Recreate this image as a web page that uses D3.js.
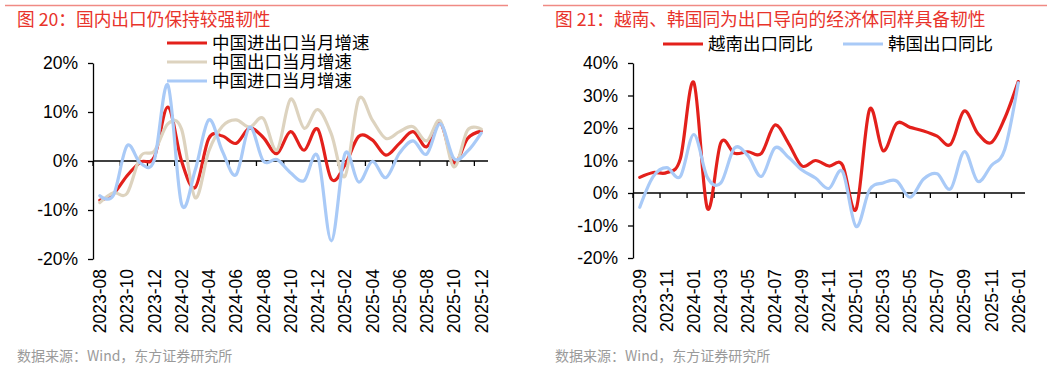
<!DOCTYPE html>
<html><head><meta charset="utf-8">
<script src="https://cdn.jsdelivr.net/npm/d3@7/dist/d3.min.js"></script>
<style>
html,body{margin:0;padding:0;background:#fff;}
svg{display:block;}
</style></head>
<body>
<script>
// ---------- data ----------
const leftCats = ["2023-08","2023-09","2023-10","2023-11","2023-12","2024-01","2024-02","2024-03","2024-04","2024-05","2024-06","2024-07","2024-08","2024-09","2024-10","2024-11","2024-12","2025-01","2025-02","2025-03","2025-04","2025-05","2025-06","2025-07","2025-08","2025-09","2025-10","2025-11","2025-12"];
const chinaTrade   = [-8.0,-6.7,-3.0,-0.2,0.8,11.0,0.0,-5.4,4.6,5.1,3.6,6.7,4.8,1.5,6.0,2.2,6.5,-3.7,-0.8,5.0,4.3,1.2,3.6,6.0,2.9,7.8,-0.4,4.6,6.1];
const chinaExport  = [-8.5,-6.5,-6.6,1.0,2.0,7.6,6.5,-7.5,2.0,7.1,8.4,6.9,8.7,2.2,12.6,6.7,10.5,5.5,-3.1,12.6,8.4,4.6,6.0,7.0,4.1,8.2,-1.2,6.3,6.5];
const chinaImport  = [-7.1,-7.0,3.1,-0.5,0.2,15.5,-8.8,-1.9,8.4,2.0,-2.8,6.9,0.0,0.3,-2.4,-4.0,1.0,-16.3,1.5,-4.3,-0.1,-3.4,1.6,4.1,1.4,7.6,0.5,2.0,5.7];
const leftTicks = [-20,-10,0,10,20];
const leftNames = ["中国进出口当月增速","中国出口当月增速","中国进口当月增速"];

const rightCats = ["2023-09","2023-10","2023-11","2023-12","2024-01","2024-02","2024-03","2024-04","2024-05","2024-06","2024-07","2024-08","2024-09","2024-10","2024-11","2024-12","2025-01","2025-02","2025-03","2025-04","2025-05","2025-06","2025-07","2025-08","2025-09","2025-10","2025-11","2025-12","2026-01"];
const vietnamExport = [4.8,6.3,6.3,10.5,34.0,-4.7,15.5,12.2,12.7,12.2,20.9,15.3,8.3,10.0,8.3,8.6,-5.0,25.7,13.0,21.4,20.2,19.1,17.5,15.0,25.2,18.4,15.5,23.0,34.3];
const koreaExport   = [-4.4,5.1,7.8,5.1,18.0,4.8,3.1,13.8,11.5,5.1,13.9,11.0,7.1,4.6,1.4,6.6,-10.3,1.0,3.1,3.7,-1.3,4.3,5.9,1.3,12.7,3.6,8.4,13.4,33.9];
const rightTicks = [-20,-10,0,10,20,30,40];
const rightNames = ["越南出口同比","韩国出口同比"];

const leftTitle = "图 20：国内出口仍保持较强韧性";
const rightTitle = "图 21：越南、韩国同为出口导向的经济体同样具备韧性";
const sourceText = "数据来源：Wind，东方证券研究所";

// ---------- style ----------
const RED = "#e3201b", BEIGE = "#ddd3bf", BLUE = "#a9caf7";
const FONT_NUM = "'Liberation Sans', Arial, sans-serif";
const FONT_CJK = "'Noto Sans CJK SC', 'Liberation Sans', sans-serif";

const svg = d3.select("body").append("svg").attr("width",1060).attr("height",368);
svg.append("rect").attr("width",1060).attr("height",368).attr("fill","#fff");

function chart(cfg){
  const g = svg.append("g");
  // title rule and title
  g.append("line").attr("x1",cfg.ruleX[0]).attr("x2",cfg.ruleX[1]).attr("y1",5.5).attr("y2",5.5)
    .attr("stroke","#f08a84").attr("stroke-width",1.6);
  g.append("text").attr("x",cfg.titleX).attr("y",26).text(cfg.title)
    .attr("font-family",FONT_CJK).attr("font-size",17.7).attr("fill","#e8332b");
  g.append("text").attr("x",cfg.titleX).attr("y",361).text(sourceText)
    .attr("font-family",FONT_CJK).attr("font-size",14).attr("fill","#9a9a9a");

  const x = d3.scaleBand().domain(d3.range(cfg.cats.length)).range(cfg.xr).paddingInner(0).paddingOuter(0);
  const xc = i => x(i) + x.bandwidth()/2;
  const y = d3.scaleLinear().domain(cfg.yd).range(cfg.yr);

  // y axis
  const ya = g.append("g").attr("transform",`translate(${cfg.xr[0]},0)`)
    .call(d3.axisLeft(y).tickValues(cfg.ticks).tickFormat(d=>d+"%").tickSize(5).tickSizeOuter(0).tickPadding(10));
  ya.selectAll("path,line").attr("stroke","#000").attr("stroke-width",1.3);
  ya.selectAll("text").attr("font-family",FONT_NUM).attr("font-size",17.5).attr("fill","#000");

  // x axis line at zero
  const y0 = y(0);
  g.append("line").attr("x1",cfg.xr[0]).attr("x2",cfg.xr[1]).attr("y1",y0).attr("y2",y0)
    .attr("stroke","#000").attr("stroke-width",1.3);
  const evens = d3.range(0,cfg.cats.length,2);
  g.selectAll(".xt").data(evens).enter().append("line")
    .attr("x1",i=>x(i)).attr("x2",i=>x(i)).attr("y1",y0).attr("y2",y0+5)
    .attr("stroke","#000").attr("stroke-width",1.3);
  // x labels
  g.selectAll(".xl").data(evens).enter().append("text")
    .attr("transform",i=>`translate(${xc(i)},269) rotate(-90)`)
    .attr("text-anchor","end").attr("dy","0.36em")
    .attr("font-family",FONT_NUM).attr("font-size",17.5).attr("fill","#000")
    .text(i=>cfg.cats[i]);

  // series
  const line = d3.line().x((d,i)=>xc(i)).y(d=>y(d)).curve(d3.curveCardinal.tension(0));
  cfg.series.forEach(s=>{
    g.append("path").datum(s.values).attr("d",line).attr("fill","none")
      .attr("stroke",s.color).attr("stroke-width",3.2).attr("stroke-linejoin","round").attr("stroke-linecap","round");
  });

  // legend
  cfg.legend.forEach(l=>{
    g.append("line").attr("x1",l.x).attr("x2",l.x+40).attr("y1",l.y).attr("y2",l.y)
      .attr("stroke",l.color).attr("stroke-width",3.2);
    g.append("text").attr("x",l.x+45).attr("y",l.y).attr("dy","0.35em").text(l.name)
      .attr("font-family",FONT_CJK).attr("font-size",17.5).attr("fill","#000");
  });
}

chart({
  ruleX:[5,508], titleX:17, title:leftTitle,
  cats:leftCats, xr:[93,488], yd:[-20,20], yr:[259,63], ticks:leftTicks,
  series:[{values:chinaTrade,color:RED},{values:chinaExport,color:BEIGE},{values:chinaImport,color:BLUE}],
  legend:[{x:167,y:43,color:RED,name:leftNames[0]},{x:167,y:62,color:BEIGE,name:leftNames[1]},{x:167,y:81,color:BLUE,name:leftNames[2]}]
});
chart({
  ruleX:[543,1047], titleX:555, title:rightTitle,
  cats:rightCats, xr:[633,1025], yd:[-20,40], yr:[258,63], ticks:rightTicks,
  series:[{values:vietnamExport,color:RED},{values:koreaExport,color:BLUE}],
  legend:[{x:663,y:44,color:RED,name:rightNames[0]},{x:843,y:44,color:BLUE,name:rightNames[1]}]
});
</script>
</body></html>
